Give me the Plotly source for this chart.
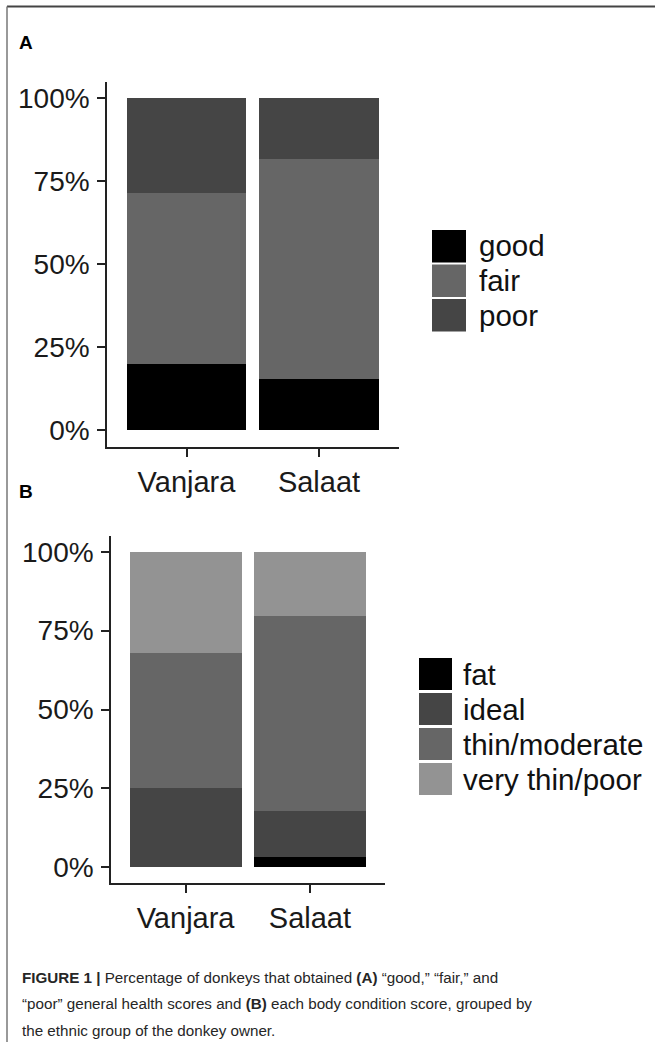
import plotly.graph_objects as go

W, H = 655, 1047

groups = ["Vanjara", "Salaat"]

# Panel A: general health score (% of donkeys)
health_levels = ["good", "fair", "poor"]
health_good = [20.0, 15.4]
health_fair = [51.4, 66.4]
health_poor = [28.6, 18.2]
health_colors = ["#000000", "#666666", "#454545"]

# Panel B: body condition score (% of donkeys)
bcs_levels = ["fat", "ideal", "thin/moderate", "very thin/poor"]
bcs_fat = [0.0, 3.2]
bcs_ideal = [25.0, 14.7]
bcs_thin = [43.0, 61.7]
bcs_verythin = [32.0, 20.4]
bcs_colors = ["#000000", "#454545", "#666666", "#939393"]

y_ticks = [0, 25, 50, 75, 100]
y_ticktext = ["0%", "25%", "50%", "75%", "100%"]

FONT = "Liberation Sans, Arial, Helvetica, sans-serif"
AXC = "#222222"


def px_x(p):
    return p / W


def px_y(p):
    return 1 - p / H


fig = go.Figure()

for name, vals, col in zip(health_levels, [health_good, health_fair, health_poor], health_colors):
    fig.add_trace(go.Bar(x=groups, y=vals, name=name, marker=dict(color=col, line=dict(width=0)),
                         width=0.9, xaxis="x", yaxis="y", showlegend=False))

for name, vals, col in zip(bcs_levels, [bcs_fat, bcs_ideal, bcs_thin, bcs_verythin], bcs_colors):
    fig.add_trace(go.Bar(x=groups, y=vals, name=name, marker=dict(color=col, line=dict(width=0)),
                         width=0.9, xaxis="x2", yaxis="y2", showlegend=False))

axis_common = dict(showline=True, linecolor=AXC, linewidth=1.5, ticks="outside", ticklen=8,
                   tickwidth=1.5, tickcolor=AXC, showgrid=False, zeroline=False)
ytick_font = dict(family=FONT, size=28, color="#1a1a1a")
xtick_font = dict(family=FONT, size=29, color="#1a1a1a")

fig.update_layout(
    width=W, height=H,
    margin=dict(l=0, r=0, t=0, b=0),
    paper_bgcolor="white", plot_bgcolor="white",
    barmode="stack",
    bargap=0.1,
    xaxis=dict(domain=[px_x(107), px_x(398.5)], range=[-0.6, 1.6], anchor="y",
               tickfont=xtick_font, **axis_common),
    yaxis=dict(domain=[px_y(447), px_y(81.5)], range=[-5, 105], anchor="x",
               tickmode="array", tickvals=y_ticks, ticktext=y_ticktext,
               ticklabelstandoff=2, tickfont=ytick_font, **axis_common),
    xaxis2=dict(domain=[px_x(111), px_x(384.5)], range=[-0.6, 1.6], anchor="y2",
                tickfont=xtick_font, **axis_common),
    yaxis2=dict(domain=[px_y(883), px_y(536)], range=[-5, 105], anchor="x2",
                tickmode="array", tickvals=y_ticks, ticktext=y_ticktext,
                ticklabelstandoff=2, tickfont=ytick_font, **axis_common),
    showlegend=False,
)

shapes = []
annotations = []

# Legend A (manual keys)
for i, (name, col) in enumerate(zip(health_levels, health_colors)):
    top = 230 + i * 34.5
    shapes.append(dict(type="rect", xref="paper", yref="paper",
                       x0=px_x(432), x1=px_x(466), y0=px_y(top + 32.5), y1=px_y(top),
                       fillcolor=col, line=dict(width=0)))
    annotations.append(dict(xref="paper", yref="paper", x=px_x(477), y=px_y(top + 16),
                            text=name, showarrow=False, xanchor="left", yanchor="middle",
                            font=dict(family=FONT, size=29.5, color="#111111")))

# Legend B (manual keys)
for i, (name, col) in enumerate(zip(bcs_levels, bcs_colors)):
    top = 658 + i * 35
    shapes.append(dict(type="rect", xref="paper", yref="paper",
                       x0=px_x(419), x1=px_x(452), y0=px_y(top + 32), y1=px_y(top),
                       fillcolor=col, line=dict(width=0)))
    annotations.append(dict(xref="paper", yref="paper", x=px_x(461), y=px_y(top + 16),
                            text=name, showarrow=False, xanchor="left", yanchor="middle",
                            font=dict(family=FONT, size=29.5, color="#111111")))

# Panel labels
annotations.append(dict(xref="paper", yref="paper", x=px_x(17), y=px_y(42.5), text="<b>A</b>",
                        showarrow=False, xanchor="left", yanchor="middle",
                        font=dict(family=FONT, size=19, color="#000000")))
annotations.append(dict(xref="paper", yref="paper", x=px_x(17), y=px_y(492), text="<b>B</b>",
                        showarrow=False, xanchor="left", yanchor="middle",
                        font=dict(family=FONT, size=19, color="#000000")))

# Caption
caption_lines = [
    "<b>FIGURE 1 |</b> Percentage of donkeys that obtained <b>(A)</b> \u201cgood,\u201d \u201cfair,\u201d and",
    "\u201cpoor\u201d general health scores and <b>(B)</b> each body condition score, grouped by",
    "the ethnic group of the donkey owner.",
]
for i, line in enumerate(caption_lines):
    annotations.append(dict(xref="paper", yref="paper", x=px_x(20), y=px_y(977 + i * 26.5),
                            text=line, showarrow=False, xanchor="left", yanchor="middle",
                            font=dict(family=FONT, size=15.2, color="#262626")))

# Frame lines (top and left)
shapes.append(dict(type="line", xref="paper", yref="paper", x0=px_x(7), x1=1.0,
                   y0=px_y(6.5), y1=px_y(6.5), line=dict(color="#444444", width=2)))
shapes.append(dict(type="line", xref="paper", yref="paper", x0=px_x(7), x1=px_x(7),
                   y0=px_y(6.5), y1=px_y(1042), line=dict(color="#777777", width=1.5)))

fig.update_layout(shapes=shapes, annotations=annotations)

fig.write_html("out.html", config={"displayModeBar": False},
               post_script="document.body.style.margin='0';document.body.style.overflow='hidden';")
